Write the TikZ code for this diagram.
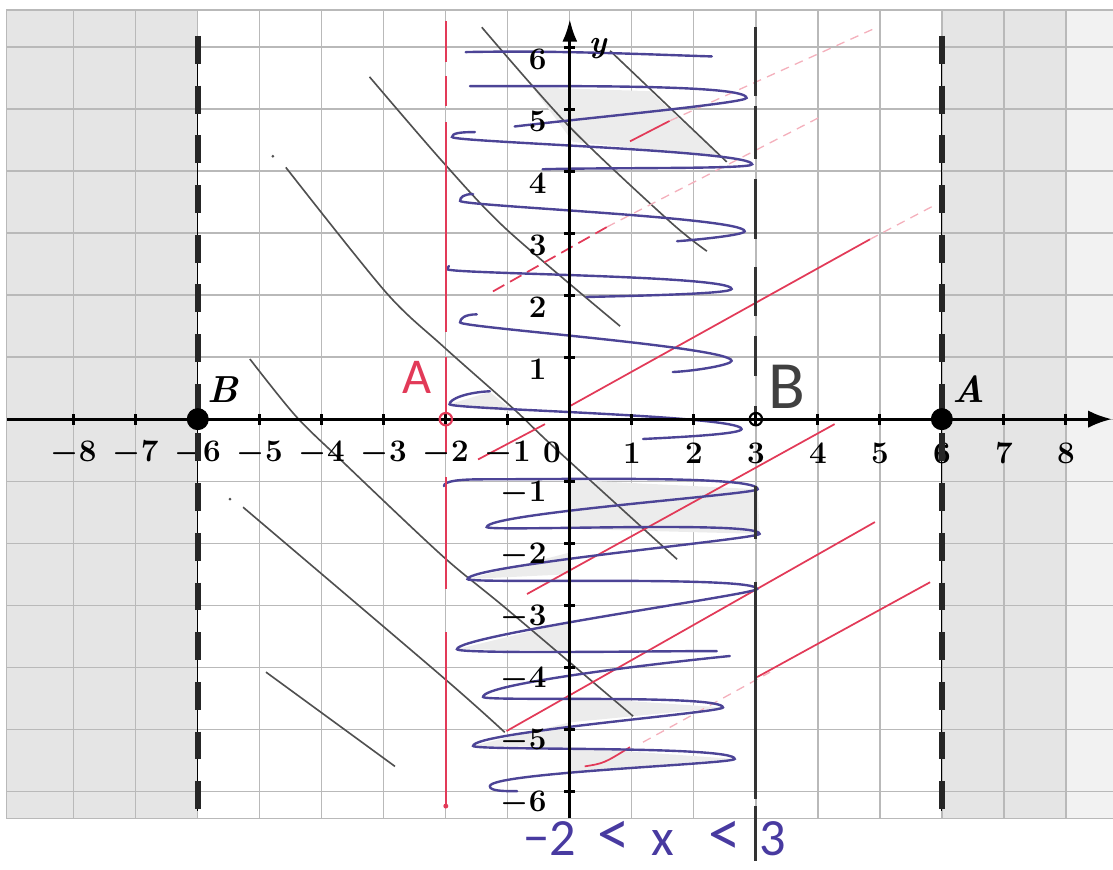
\documentclass[tikz,border=0pt]{standalone}
\usepackage{fontspec}
\newfontfamily\handfont{Carlito}
\usetikzlibrary{arrows.meta}

\definecolor{coilblue}{RGB}{76,68,150}
\definecolor{inkblue}{RGB}{72,58,160}
\definecolor{penred}{RGB}{226,58,88}
\definecolor{gridgray}{RGB}{185,185,185}
\definecolor{shadegray}{RGB}{229,229,229}
\definecolor{paleshade}{RGB}{242,242,242}
\definecolor{curvegray}{RGB}{80,80,80}
\definecolor{loopfill}{RGB}{236,236,236}

\begin{document}
\begin{tikzpicture}[
  gridline/.style={gridgray, line width=0.6pt},
  curve/.style={curvegray, line width=0.75pt},
  coil/.style={coilblue, line width=1.1pt, line cap=round},
  redline/.style={penred, line width=0.8pt},
  faintred/.style={penred!40, line width=0.6pt, dash pattern=on 4pt off 3pt},
  bound/.style={black!85, line width=2.6pt, dash pattern=on 12.8pt off 10pt},
  axtick/.style={black, line width=1.3pt},
  axlabel/.style={font=\fontsize{13.5}{15}\selectfont\boldmath},
  ptlabel/.style={font=\LARGE\bfseries\itshape},
  handred/.style={penred, font=\handfont\fontsize{23}{26}\selectfont},
  handgray/.style={black!75, font=\handfont\fontsize{31}{34}\selectfont},
  handblue/.style={inkblue, inner sep=0pt, font=\handfont\fontsize{24}{26}\selectfont}
]
\useasboundingbox (-9.19,-7.27) rectangle (8.76,6.76);

% shaded strips
\fill[shadegray] (-9.08,-6.44) rectangle (-6,6.6);
\fill[shadegray] (6,-6.44) rectangle (8,6.6);
\fill[paleshade] (8,-6.44) rectangle (8.76,6.6);

% grid
\foreach \x in {-8,...,8}
  \draw[gridline] (\x,-6.44) -- (\x,6.6);
\foreach \y in {-6,...,6}
  \draw[gridline] (-9.08,\y) -- (8.76,\y);
\draw[gridline] (8.76,6.6) -- (-9.08,6.6) -- (-9.08,-6.44) -- (8.76,-6.44);

% light fill inside some loops
\fill[loopfill] (-0.60,5.35) -- (1.29,5.29) -- (2.42,4.24) -- (0.05,4.47) -- cycle;
\fill[loopfill] (-1.94,0.24) -- (-1.29,0.44) -- (-0.92,0.13) -- (-1.5,0.17) -- cycle;
\fill[loopfill] (0,-0.98) -- (3.03,-1.13) -- (3.06,-1.85) -- (0,-1.77) -- cycle;
\fill[loopfill] (0,-2.15) -- (-1.65,-2.58) -- (0,-2.50) -- cycle;
\fill[loopfill] (0,-3.27) -- (-1.82,-3.71) -- (0,-3.74) -- cycle;
\fill[loopfill] (0,-4.48) -- (2.47,-4.65) -- (0,-4.89) -- cycle;
\fill[loopfill] (0,-4.89) -- (-1.56,-5.27) -- (0,-5.29) -- cycle;
\fill[loopfill] (0,-5.29) -- (2.66,-5.48) -- (0,-5.69) -- cycle;

% grey curves
\draw[curve] plot[smooth] coordinates {(-1.42,6.32) (0,4.71) (1.61,3.19) (2.21,2.71)};
\draw[curve] (0.65,5.94) -- (2.53,4.15);
\draw[curve] plot[smooth] coordinates {(-3.23,5.52) (-2.05,4.15) (-1.02,3.06) (0.81,1.50)};
\draw[curve] plot[smooth] coordinates {(-4.58,4.06) (-2.97,2.05) (-2.05,1.18) (-0.90,0.16) (-0.27,-0.44) (1.73,-2.26)};
\draw[curve] plot[smooth] coordinates {(-5.16,0.97) (-4.42,0.05) (-3.66,-0.69) (-2.05,-2.21) (-1.02,-3.06) (1.02,-4.79)};
\draw[curve] plot[smooth] coordinates {(-5.27,-1.42) (-2.05,-4.16) (-1.05,-5.05)};
\draw[curve] (-4.90,-4.08) -- (-2.82,-5.60);
\fill[curvegray] (-4.79,4.24) circle (0.025);
\fill[curvegray] (-5.48,-1.29) circle (0.025);

% red lines
\draw[redline] (0.97,4.48) -- (1.61,4.81);
\draw[faintred] (1.61,4.81) -- (4.89,6.29);
\draw[redline, dash pattern=on 6pt off 3pt] (-1.24,2.06) -- (0.60,3.10);
\draw[faintred] (0.60,3.10) -- (4.03,4.87);
\draw[redline] (-1.48,-0.65) -- (-0.40,-0.08);
\draw[redline] (0,0.21) -- (4.84,2.90);
\draw[faintred] (4.84,2.90) -- (5.92,3.47);
\draw[redline] (-0.69,-2.82) -- (4.27,-0.08);
\draw[redline] (-1.02,-5.03) -- (4.92,-1.66);
\draw[redline] (0.24,-5.60) .. controls (0.55,-5.55) .. (0.97,-5.29);
\draw[faintred] (1.18,-5.21) -- (3.23,-4.08);
\draw[redline] (3.02,-4.16) -- (5.81,-2.63);

% the coil
\draw[coil] (-1.68,5.92) .. controls +(1.5,0.03) and +(-1,0.03) .. (2.29,5.85);
\draw[coil] (-1.61,5.37) .. controls +(1.5,0) and +(0,0.22) .. (2.85,5.18)
  .. controls +(0,-0.08) and +(1,0.12) .. (-0.89,4.72);
\draw[coil] (-1.53,4.63) .. controls +(-0.25,0) and +(0,0.06) .. (-1.90,4.55)
  .. controls +(0,-0.08) and +(0,0.22) .. (2.94,4.11)
  .. controls +(0,-0.08) and +(1,0.03) .. (-0.44,4.03);
\draw[coil] (-1.56,3.63) .. controls +(-0.15,0) and +(0,0.06) .. (-1.77,3.52)
  .. controls +(0,-0.08) and +(0,0.22) .. (2.82,3.03)
  .. controls +(0,-0.06) and +(0.3,0.02) .. (1.73,2.87);
\draw[coil] (-1.95,2.47) .. controls +(-0.03,-0.02) .. (-1.98,2.42)
  .. controls +(0,-0.08) and +(0,0.22) .. (2.61,2.10)
  .. controls +(0,-0.08) and +(0.8,0.02) .. (0.27,1.97);
\draw[coil] (-1.50,1.69) .. controls +(-0.2,0) and +(0,0.06) .. (-1.77,1.56)
  .. controls +(0,-0.08) and +(0,0.22) .. (2.61,0.94)
  .. controls +(0,-0.06) and +(0.4,0.02) .. (1.66,0.76);
\draw[coil] (-1.29,0.45) .. controls +(-0.4,-0.02) and +(0,0.08) .. (-1.94,0.24)
  .. controls +(0,-0.08) and +(0,0.22) .. (2.77,-0.16)
  .. controls +(0,-0.08) and +(0.6,0.03) .. (1.18,-0.32);
\draw[coil] (-2.03,-1.08) .. controls +(0,0.08) and +(-0.4,0) .. (-1.40,-0.97)
  .. controls +(1.5,0) and +(0,0.22) .. (3.03,-1.13)
  .. controls +(0,-0.08) and +(0,0.22) .. (-1.34,-1.74)
  .. controls +(0,-0.08) and +(0,0.22) .. (3.06,-1.85)
  .. controls +(0,-0.08) and +(0,0.22) .. (-1.65,-2.58)
  .. controls +(0,-0.08) and +(0,0.22) .. (3.02,-2.74)
  .. controls +(0,-0.08) and +(0,0.22) .. (-1.82,-3.71)
  .. controls +(0,-0.08) and +(-1,0) .. (2.37,-3.74);
\draw[coil] (2.58,-3.82) .. controls +(-1,-0.1) and +(0,0.22) .. (-1.40,-4.48)
  .. controls +(0,-0.08) and +(0,0.22) .. (2.47,-4.65)
  .. controls +(0,-0.08) and +(0,0.22) .. (-1.56,-5.27)
  .. controls +(0,-0.08) and +(0,0.22) .. (2.66,-5.48)
  .. controls +(0,-0.08) and +(0,0.22) .. (-1.29,-5.92)
  .. controls +(0,-0.08) and +(-0.2,0) .. (-0.85,-6.00);

% red boundary x = -2
\foreach \a/\b in {6.42/5.76, 5.53/5.05, 4.79/1.40, 1.00/-0.56, -0.94/-2.74, -3.44/-6.24}
  \draw[penred, line width=1pt] (-2,\a) -- (-2,\b);
\fill[penred] (-2,-6.24) circle (0.04);

% boundary x = 3
\foreach \a/\b in {6.32/5.21, 5.05/4.19, 3.87/2.90, 2.45/1.66, 1.34/0.69, 0.21/0.10, -1.08/-1.94, -2.63/-6.13, -6.24/-7.13}
  \draw[black!80, line width=1.4pt] (3,\a) -- (3,\b);

% axes
\draw[black, line width=1.3pt, -{Latex[length=3.8mm,width=2.8mm]}] (-9.08,0) -- (8.74,0);
\draw[black, line width=1.3pt, -{Latex[length=3.6mm,width=2.4mm]}] (0,-6.44) -- (0,6.45);
\foreach \x in {-8,...,-1,1,2,...,8}
  \draw[axtick] (\x,-0.09) -- (\x,0.09);
\foreach \y in {-6,...,-1,1,2,...,6}
  \draw[axtick] (-0.09,\y) -- (0.09,\y);

% axis numbers
\foreach \x in {-8,...,-1,1,2,...,8}
  \node[axlabel] (xl\x) at (\x,-0.56) {$\x$};
\foreach \y in {-6,...,-1,1,2,...,6}
  \node[axlabel, anchor=east] (yl\y) at (-0.25,{\y-0.2}) {$\y$};
\node[axlabel] (orig) at (-0.29,-0.53) {$0$};
\node[font=\Large\bfseries\itshape] (ylab) at (0.45,5.98) {y};

% dashed bounds x = -6 and x = 6
\draw[black, line width=0.5pt] (-6,6.18) -- (-6,-6.32);
\draw[black, line width=0.5pt] (6,6.18) -- (6,-6.32);
\draw[bound] (-6,6.18) -- (-6,-6.32);
\draw[bound] (6,6.18) -- (6,-6.32);

% points
\filldraw[black] (-6,0) circle (0.17);
\filldraw[black] (6,0) circle (0.17);
\draw[penred, line width=1pt] (-2,0) circle (0.1);
\draw[black, line width=1pt] (3,0) circle (0.1);
\node[ptlabel] (labB) at (-5.6,0.48) {B};
\node[ptlabel] (labA) at (6.44,0.48) {A};

% pen notes
\node[handred] (penA) at (-2.47,0.68) {A};
\node[handgray] (penB) at (3.5,0.52) {B};
\node[handblue] (penineq) at (1.37,-6.76) {−2\hspace{0.35cm}{\fontsize{30}{32}\selectfont<}\hspace{0.35cm}x\hspace{0.55cm}{\fontsize{30}{32}\selectfont<}\hspace{0.3cm}3};
\end{tikzpicture}
\end{document}
